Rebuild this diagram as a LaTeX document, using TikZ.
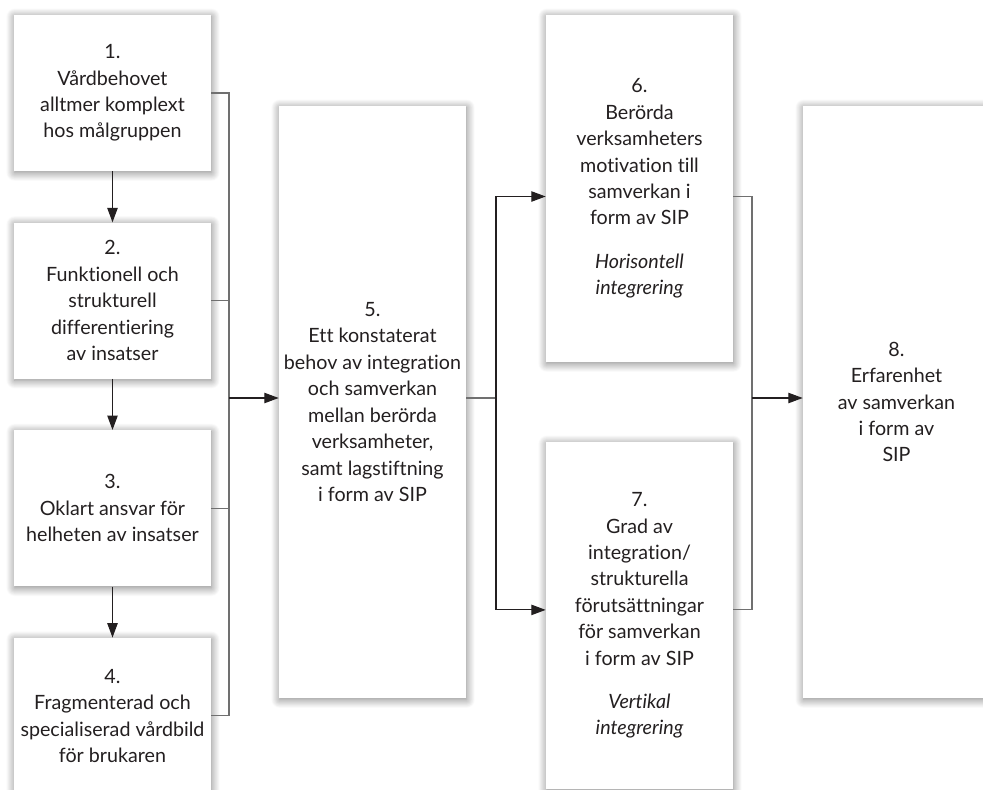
\documentclass[tikz,border=0pt]{standalone}
\usepackage{fontspec}
\setmainfont{Lato}[Ligatures={NoCommon}]
\usepackage{xcolor}
\usetikzlibrary{arrows.meta,positioning,shadows.blur}
\definecolor{ink}{HTML}{231F20}
\definecolor{wire}{HTML}{707070}

\begin{document}
\begin{tikzpicture}[
  x=0.025cm,y=-0.025cm,
  node distance=1.275cm,
  box/.style={fill=white,align=center,inner sep=2pt,text=ink,
    minimum width=4.925cm,minimum height=3.9cm,
    font=\fontsize{14}{18.8}\selectfont,
    blur shadow={shadow xshift=0.4pt,shadow yshift=-1.2pt,shadow blur radius=6pt,shadow opacity=50,shadow blur steps=14}},
  tallbox/.style={box,minimum width=4.675cm,minimum height=14.8cm},
  halfbox/.style={box,minimum width=4.675cm,minimum height=8.675cm},
  link/.style={draw=wire,line width=0.8pt},
  line/.style={link,-{Triangle[length=3.6mm,width=2.6mm]},draw=ink}
]
\useasboundingbox (0,0) rectangle (983,789);
\node[box] (need) at (112.5,93) {1.\\Vårdbehovet\\alltmer komplext\\hos målgruppen};
\node[box,below=of need] (diff) {2.\\Funktionell och\\strukturell\\differentiering\\av insatser};
\node[box,below=of diff] (resp) {3.\\Oklart ansvar för\\helheten av insatser};
\node[box,below=of resp] (frag) {4.\\Fragmenterad och\\specialiserad vårdbild\\för brukaren};
\node[tallbox] (integ) at (372.5,402) {5.\\Ett konstaterat\\behov av integration\\och samverkan\\mellan berörda\\verksamheter,\\samt lagstiftning\\i form av SIP};
\node[halfbox] (horiz) at (639.5,188.5) {6.\\Berörda\\verksamheters\\motivation till\\samverkan i\\form av SIP\\[12pt]\itshape Horisontell\\\itshape integrering};
\node[halfbox] (vert) at (639.5,615.5) {7.\\Grad av\\integration/\\strukturella\\förutsättningar\\för samverkan\\i form av SIP\\[12pt]\itshape Vertikal\\\itshape integrering};
\node[tallbox] (exp) at (896.5,402) {8.\\Erfarenhet\\av samverkan\\i form av\\SIP};
% joints of the brackets
\coordinate (jl) at (229,398);
\coordinate (jm) at (496,398);
\coordinate (jr) at (752,398);
\draw[line] (need)--(diff);
\draw[line] (diff)--(resp);
\draw[line] (resp)--(frag);
\draw[link] (need.east) -| (jl) |- (frag.east);
\draw[link] (diff.east) -- (diff.east -| jl);
\draw[link] (resp.east) -- (resp.east -| jl);
\draw[line] (jl) -- (jl -| integ.west);
\draw[link] (jm -| integ.east) -- (jm);
\draw[line] (jm) |- ([yshift=-0.2cm]horiz.west);
\draw[line] (jm) |- ([yshift=0.14cm]vert.west);
\draw[link] ([yshift=-0.2cm]horiz.east) -| (jr) |- ([yshift=0.14cm]vert.east);
\draw[line] (jr) -- (jr -| exp.west);
\end{tikzpicture}
\end{document}
